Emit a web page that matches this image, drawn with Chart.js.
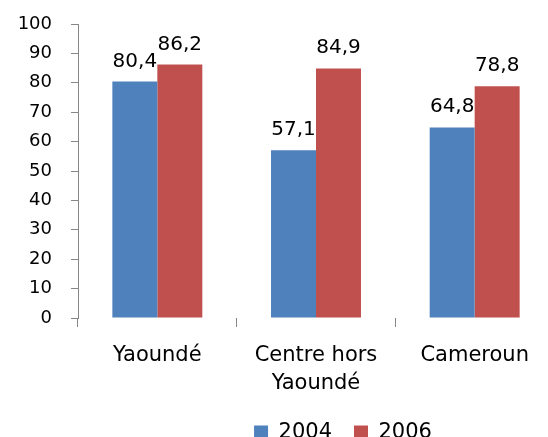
<!DOCTYPE html>
<html>
<head>
<meta charset="utf-8">
<title>Yaoundé / Centre / Cameroun 2004-2006</title>
<script src="https://cdn.jsdelivr.net/npm/chart.js@4/dist/chart.umd.min.js"></script>
<style>
  html, body { margin: 0; padding: 0; background: #fff; overflow: hidden; }
  #wrap { width: 556px; height: 437px; }
</style>
</head>
<body>
<div id="wrap"><canvas id="chart" width="556" height="437"></canvas></div>
<script>
// =============================================
// Data
// =============================================
const categories = ['Yaoundé', ['Centre hors', 'Yaoundé'], 'Cameroun'];
const seriesNames = ['2004', '2006'];
const values2004 = [80.4, 57.1, 64.8];
const values2006 = [86.2, 84.9, 78.8];
const yTicks = [0, 10, 20, 30, 40, 50, 60, 70, 80, 90, 100];

const colors = {
  blue: '#4F81BD',
  red: '#C0504D',
  axis: '#868686',
  text: '#000000'
};

Chart.defaults.font.family = '"DejaVu Sans", sans-serif';
Chart.defaults.color = colors.text;

// Value labels above every bar, French decimal comma
const barValueLabels = {
  id: 'barValueLabels',
  afterDatasetsDraw(chart) {
    const ctx = chart.ctx;
    ctx.save();
    ctx.font = '20px "DejaVu Sans", sans-serif';
    ctx.fillStyle = colors.text;
    ctx.textAlign = 'center';
    ctx.textBaseline = 'alphabetic';
    chart.data.datasets.forEach((ds, i) => {
      chart.getDatasetMeta(i).data.forEach((bar, j) => {
        const txt = String(ds.data[j].toFixed(1)).replace('.', ',');
        ctx.fillText(txt, bar.x, bar.y - 15);
      });
    });
    ctx.restore();
  }
};

// Move the legend a little to the right, like the original
const legendShift = {
  id: 'legendShift',
  afterLayout(chart) {
    const dx = 66;
    chart.legend.left += dx;
    chart.legend.right += dx;
  }
};

new Chart(document.getElementById('chart'), {
  type: 'bar',
  data: {
    labels: categories,
    datasets: [
      {
        label: seriesNames[0],
        data: values2004,
        backgroundColor: colors.blue,
        borderWidth: 0,
        categoryPercentage: 0.567,
        barPercentage: 1
      },
      {
        label: seriesNames[1],
        data: values2006,
        backgroundColor: colors.red,
        borderWidth: 0,
        categoryPercentage: 0.567,
        barPercentage: 1
      }
    ]
  },
  options: {
    responsive: false,
    devicePixelRatio: 1,
    animation: false,
    layout: {
      padding: { top: 24, right: 2, left: 0, bottom: -16 }
    },
    plugins: {
      legend: {
        position: 'bottom',
        labels: {
          boxWidth: 14,
          boxHeight: 14,
          padding: 22,
          font: { size: 21, lineHeight: 1.2 }
        }
      },
      tooltip: { enabled: false }
    },
    scales: {
      x: {
        border: { display: false },
        grid: {
          offset: true,
          drawOnChartArea: false,
          drawTicks: true,
          tickLength: 9,
          color: colors.axis
        },
        ticks: {
          padding: 15,
          maxRotation: 0,
          autoSkip: false,
          font: { size: 21, lineHeight: '28px' }
        },
        afterFit(scale) {
          scale.height = 82;
          scale.paddingTop = 0;
          scale.paddingBottom = 0;
        }
      },
      y: {
        min: 0,
        max: 100,
        border: { display: true, color: colors.axis, width: 1 },
        grid: {
          drawOnChartArea: false,
          drawTicks: true,
          tickLength: 7,
          color: colors.axis
        },
        afterBuildTicks(scale) {
          scale.ticks = yTicks.map(v => ({ value: v }));
        },
        ticks: {
          padding: 19,
          font: { size: 18 }
        },
        afterFit(scale) {
          scale.width = 78;
          scale.paddingTop = 0;
          scale.paddingBottom = 0;
        }
      }
    }
  },
  plugins: [barValueLabels, legendShift]
});
</script>
</body>
</html>
